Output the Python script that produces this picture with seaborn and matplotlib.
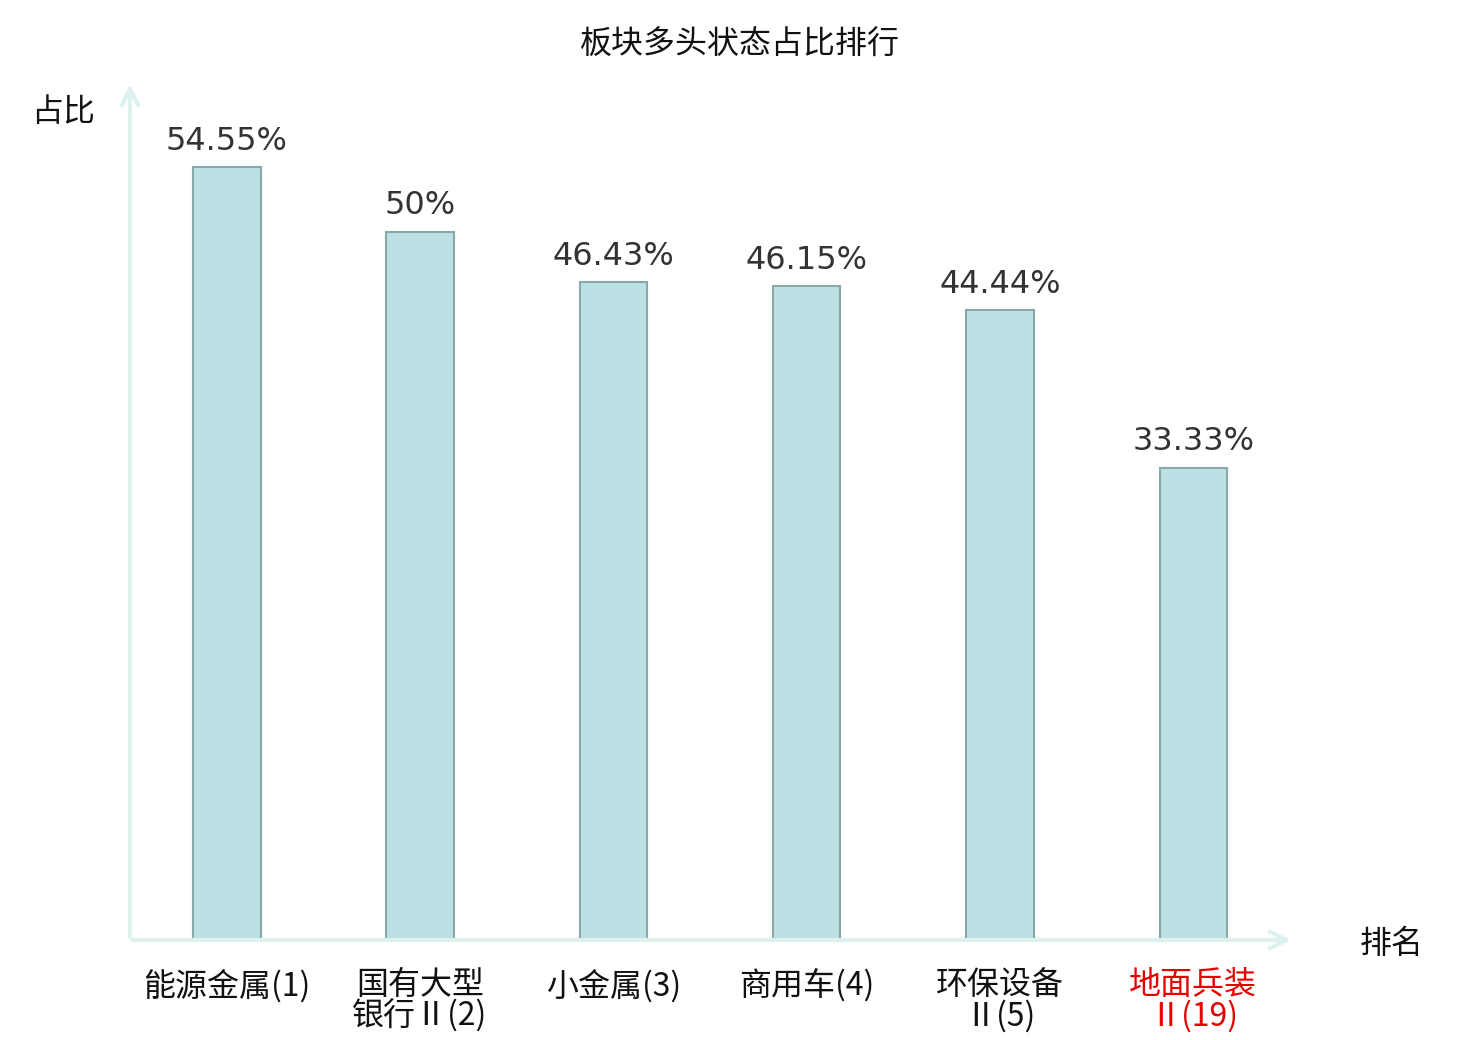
import matplotlib
matplotlib.use("Agg")
import matplotlib.pyplot as plt
import pandas as pd
import seaborn as sns

# data
categories = ["能源金属(1)", "国有大型\n银行Ⅱ(2)", "小金属(3)", "商用车(4)", "环保设备\nⅡ(5)", "地面兵装\nⅡ(19)"]
ratios = [54.55, 50, 46.43, 46.15, 44.44, 33.33]
value_labels = ["54.55%", "50%", "46.43%", "46.15%", "44.44%", "33.33%"]
label_colors = ["#111111", "#111111", "#111111", "#111111", "#111111", "#e60000"]

sns.set_theme(style="white")
plt.rcParams["font.family"] = ["Noto Sans CJK SC", "DejaVu Sans"]

df = pd.DataFrame({"cat": categories, "ratio": ratios})

fig = plt.figure(figsize=(14.8, 10.4), dpi=100)
ax = fig.add_axes([130 / 1480, 100 / 1040, 1160 / 1480, 850 / 1040])

sns.barplot(data=df, x="cat", y="ratio", ax=ax, width=0.35,
            color="#bce0e3", saturation=1, edgecolor="#8aa8a8", linewidth=1.5)

ax.set_xlim(-0.5, 5.5)
ax.set_ylim(0, 60)
for s in ax.spines.values():
    s.set_visible(False)
ax.set_yticks([])
ax.set_xlabel("")
ax.set_ylabel("")

# axis arrows
axis_col = "#ddf1ef"
ax.annotate("", xy=(5.52, 0), xytext=(-0.5, 0), xycoords="data",
            arrowprops=dict(arrowstyle="->", color=axis_col, lw=3, mutation_scale=30),
            annotation_clip=False)
ax.annotate("", xy=(-0.5, 60.6), xytext=(-0.5, 0), xycoords="data",
            arrowprops=dict(arrowstyle="->", color=axis_col, lw=3, mutation_scale=30),
            annotation_clip=False)

# value labels
for i, (v, t) in enumerate(zip(ratios, value_labels)):
    ax.text(i, v + 0.75, t, ha="center", va="bottom", fontsize=23, color="#333333",
            family=["DejaVu Sans", "Noto Sans CJK SC"])

# category labels
ax.set_xticks(range(len(categories)))
ax.set_xticklabels(categories, fontsize=23, linespacing=0.95)
ax.tick_params(axis="x", length=0, pad=21)
for lbl, c in zip(ax.get_xticklabels(), label_colors):
    lbl.set_color(c)
    lbl.set_verticalalignment("top")

fig.text(740 / 1480, 1 - 45 / 1040, "板块多头状态占比排行", ha="center", va="center",
         fontsize=23, color="#111111")
fig.text(63 / 1480, 1 - 112 / 1040, "占比", ha="center", va="center", fontsize=23, color="#111111")
fig.text(1392 / 1480, 1 - 944 / 1040, "排名", ha="center", va="center", fontsize=23, color="#111111")

fig.savefig("out.png", dpi=100)
